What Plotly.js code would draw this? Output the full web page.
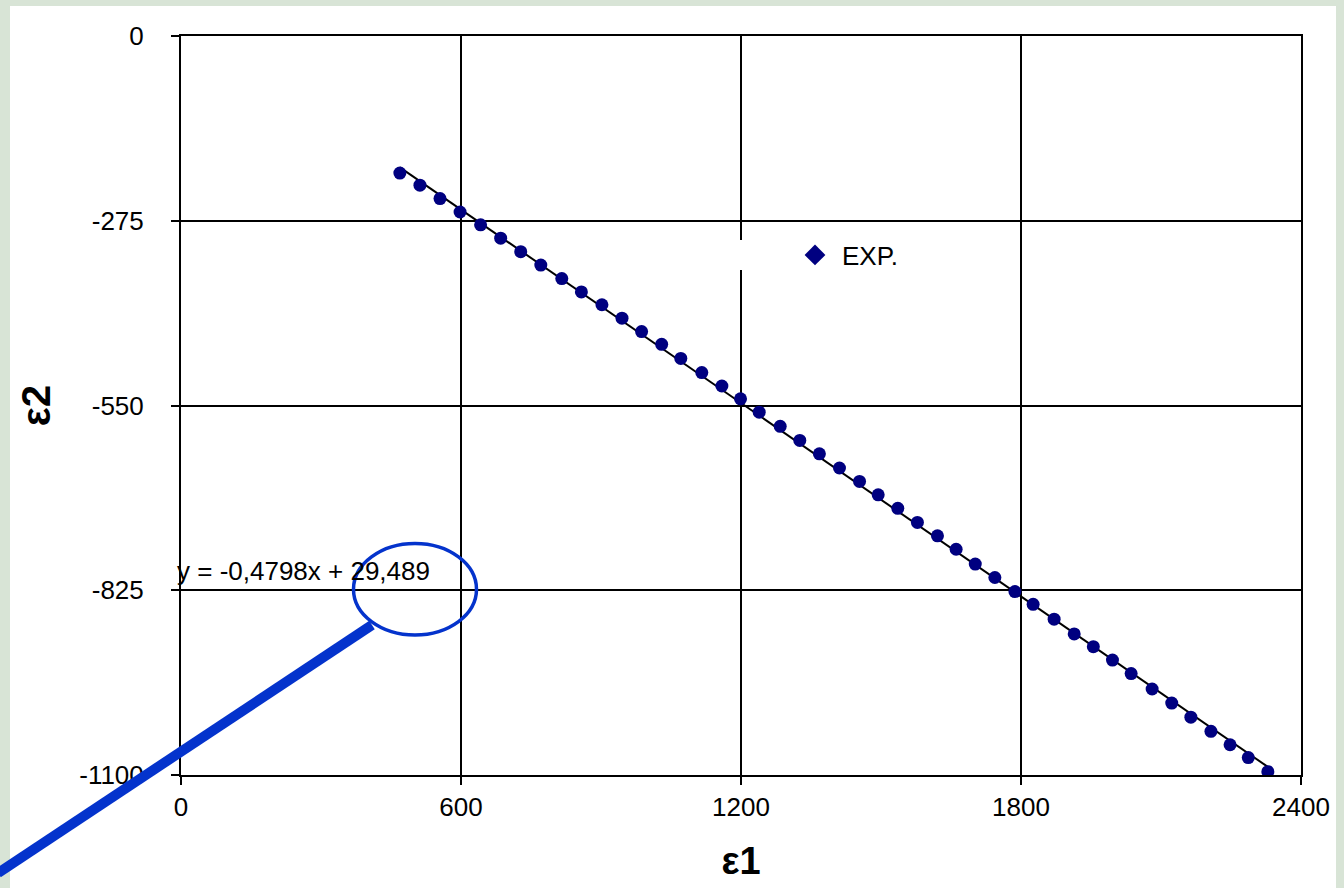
<!DOCTYPE html>
<html>
<head>
<meta charset="utf-8">
<script src="https://cdn.plot.ly/plotly-3.0.1.min.js"></script>
<style>
html,body{margin:0;padding:0;background:#d8e4d6;}
#chart{width:1344px;height:888px;}
</style>
</head>
<body>
<div id="chart"></div>
<script>
// Experimental points (ε1, ε2)
var eps1 = [469,512,555,598,642,685,728,771,816,858,902,945,987,1030,1071,1116,1159,1199,1239,1284,1326,1368,1411,1454,1494,1536,1578,1621,1661,1702,1744,1787,1826,1871,1914,1955,1996,2036,2081,2123,2164,2207,2248,2287,2329];
var eps2 = [-204,-222,-242,-262,-281,-301,-321,-341,-361,-381,-400,-420,-440,-459,-480,-501,-521,-540,-560,-581,-602,-622,-643,-663,-683,-703,-724,-744,-764,-786,-806,-827,-846,-868,-890,-909,-929,-949,-972,-993,-1014,-1035,-1055,-1074,-1095];

// Linear trendline coefficients
var trendSlope = -0.4798;
var trendIntercept = 29.489;
var trendLabel = "y = -0,4798x + 29,489";

// Axis ticks
var xTickVals = [0,600,1200,1800,2400];
var xTickText = ["0","600","1200","1800","2400"];
var yTickVals = [0,-275,-550,-825,-1100];
var yTickText = ["0","-275","-550","-825","-1100"];

var seriesName = "EXP.";

var xMin = Math.min.apply(null, eps1), xMax = Math.max.apply(null, eps1);
var trendX = [xMin, xMax];
var trendY = trendX.map(function(v){ return trendSlope*v + trendIntercept; });

var FONT = "Arial, 'Liberation Sans', sans-serif";
var NAVY = "#000080";
var BLUE = "#0433cc";

var traces = [
  {x: trendX, y: trendY, mode: "lines", line: {color: "#000000", width: 2}, showlegend: false, hoverinfo: "skip"},
  {x: eps1, y: eps2, mode: "markers", marker: {symbol: "circle", size: 13, color: NAVY}, showlegend: false, name: seriesName},
  {x: [null], y: [null], mode: "markers", marker: {symbol: "diamond", size: 16, color: NAVY}, name: seriesName, showlegend: true}
];

// plot area: x 181..1301, y 36..775
var L = 181, R = 1301, T = 36, B = 775, W = 1344, H = 888;
function px(x){ return (x - L)/(R - L); }
function py(y){ return (B - y)/(B - T); }

var layout = {
  width: W, height: H,
  margin: {l: L, r: W - R, t: T, b: H - B, pad: 0},
  paper_bgcolor: "#d8e4d6",
  plot_bgcolor: "#ffffff",
  font: {family: FONT, size: 26, color: "#000000"},
  showlegend: true,
  xaxis: {
    range: [0, 2400], tickmode: "array", tickvals: xTickVals, ticktext: xTickText,
    showgrid: true, gridcolor: "#000000", gridwidth: 2,
    showline: true, linecolor: "#000000", linewidth: 2, mirror: true,
    ticks: "outside", ticklen: 8, tickwidth: 2, tickcolor: "#000000",
    ticklabelstandoff: 0,
    zeroline: false,
    tickfont: {family: FONT, size: 26, color: "#000000"},
    title: {text: "<b>ε1</b>", font: {family: FONT, size: 38, color: "#000000"}, standoff: 26}
  },
  yaxis: {
    range: [-1100, 0], tickmode: "array", tickvals: yTickVals, ticktext: yTickText,
    showgrid: true, gridcolor: "#000000", gridwidth: 2,
    showline: true, linecolor: "#000000", linewidth: 2, mirror: true,
    ticks: "outside", ticklen: 8, tickwidth: 2, tickcolor: "#000000",
    ticklabelstandoff: 22,
    zeroline: false,
    tickfont: {family: FONT, size: 26, color: "#000000"},
    title: {text: "<b>ε2</b>", font: {family: FONT, size: 40, color: "#000000"}, standoff: 16}
  },
  legend: {
    x: px(788), y: py(255), xanchor: "left", yanchor: "middle",
    bgcolor: "#ffffff", borderwidth: 0, itemwidth: 44,
    font: {family: FONT, size: 26, color: "#000000"}
  },
  shapes: [
    {type: "rect", xref: "paper", yref: "paper", layer: "below",
     x0: px(10), x1: px(1336), y0: py(6), y1: py(900),
     fillcolor: "#ffffff", line: {width: 0}},
    {type: "rect", xref: "paper", yref: "paper", layer: "above",
     x0: px(733), x1: px(800), y0: py(270), y1: py(240),
     fillcolor: "#ffffff", line: {width: 0}},
    {type: "circle", xref: "paper", yref: "paper", layer: "above",
     x0: px(353.5), x1: px(476.5), y0: py(635), y1: py(543.5),
     line: {color: BLUE, width: 3.5}, fillcolor: "rgba(0,0,0,0)"},
    {type: "line", xref: "paper", yref: "paper", layer: "above",
     x0: px(-2), y0: py(873), x1: px(372), y1: py(625),
     line: {color: BLUE, width: 10}}
  ],
  annotations: [
    {xref: "paper", yref: "paper", x: px(175), y: py(571), xanchor: "left", yanchor: "middle",
     text: trendLabel, showarrow: false, font: {family: FONT, size: 26, color: "#000000"}}
  ]
};

Plotly.newPlot("chart", traces, layout, {displayModeBar: false, staticPlot: true});
</script>
</body>
</html>
